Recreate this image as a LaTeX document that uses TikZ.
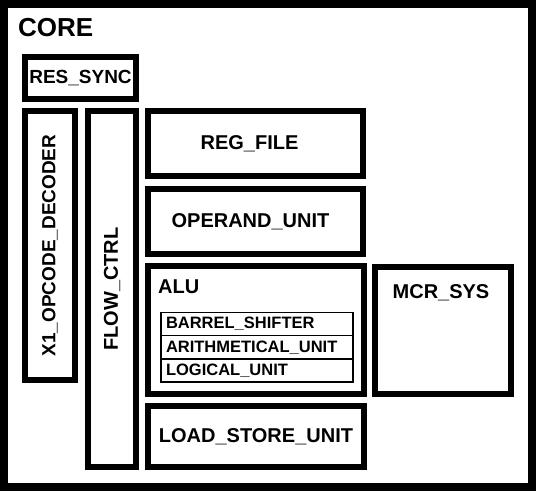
\documentclass[tikz,border=0pt]{standalone}
\usepackage{fontspec}
\setmainfont{Liberation Sans}
\usetikzlibrary{positioning}
\tikzset{blk/.style={rectangle, draw, line width=6pt, outer sep=0pt,
  inner sep=0pt, font=\fontsize{20}{20}\selectfont\bfseries},
  lbl/.style={draw=none, inner sep=0pt, font=\fontsize{20}{20}\selectfont\bfseries},
  subrow/.style={rectangle, draw, line width=1.6pt, outer sep=0pt,
  inner xsep=5pt, inner ysep=0pt, text width=182pt, align=left,
  minimum height=23.3pt, font=\fontsize{16.5}{16.5}\selectfont\bfseries}}

\begin{document}
\begin{tikzpicture}[x=1pt, y=-1pt]
  \useasboundingbox (0,0) rectangle (536,491);
  \draw[line width=8pt] (4,4) rectangle (532,487);
  \node[lbl, anchor=base west, font=\fontsize{26}{26}\selectfont\bfseries] (core) at (18,36) {CORE};
  % left column
  \node[blk, minimum width=111, minimum height=42, font=\fontsize{19}{19}\selectfont\bfseries] (ressync) at (80.5,78) {RES\_SYNC};
  \node[blk, minimum width=50, minimum height=269, font=\fontsize{19}{19}\selectfont\bfseries] (opdec) at (50,245.5) {\rotatebox{90}{X1\_OPCODE\_DECODER}};
  \node[blk, minimum width=48, minimum height=356] (flow) at (112,289) {\rotatebox{90}{FLOW\_CTRL}};
  % middle column
  \node[blk, minimum width=215, minimum height=65] (regfile) at (255.5,143.5) {\hspace*{-12pt}REG\_FILE};
  \node[blk, minimum width=215, minimum height=65] (operand) at (255.5,221.5) {\hspace*{-10pt}OPERAND\_UNIT};
  \node[blk, minimum width=216, minimum height=128] (alu) at (256,330) {};
  \node[lbl, anchor=base west] (alutitle) at (158,293) {ALU};
  \node[subrow] (shifter) at (257,324) {BARREL\_SHIFTER};
  \node[subrow, below=0pt of shifter] (arith) {ARITHMETICAL\_UNIT};
  \node[subrow, below=0pt of arith] (logic) {LOGICAL\_UNIT};
  \node[blk, minimum width=216, minimum height=61] (lsu) at (256,436.5) {LOAD\_STORE\_UNIT};
  % right column
  \node[blk, minimum width=136, minimum height=127] (mcr) at (443,330.5) {};
  \node[lbl] (mcrtitle) at (441,293) {MCR\_SYS};
\end{tikzpicture}
\end{document}
